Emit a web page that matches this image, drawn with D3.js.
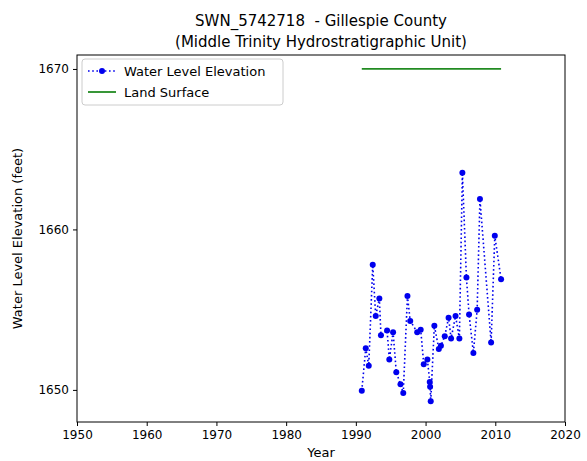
<!DOCTYPE html>
<html>
<head>
<meta charset="utf-8">
<script src="https://cdn.jsdelivr.net/npm/d3@7"></script>
<style>
  body { margin: 0; background: #fff; }
  svg text { font-family: "DejaVu Sans", sans-serif; fill: #000; white-space: pre; }
</style>
</head>
<body>
<div id="chart"></div>
<script>
// water level readings (decimal year, feet)
const years = [1990.85, 1991.42, 1991.85, 1992.42, 1992.85, 1993.37, 1993.6, 1994.48, 1994.8, 1995.34,
  1995.8, 1996.4, 1996.8, 1997.4, 1997.8, 1998.8, 1999.3, 1999.74, 2000.26, 2000.6,
  2000.65, 2000.74, 2001.26, 2001.9, 2002.2, 2002.75, 2003.3, 2003.66, 2004.3, 2004.85,
  2005.28, 2005.86, 2006.24, 2006.86, 2007.4, 2007.8, 2009.4, 2009.93, 2010.83];
const levels = [1649.94, 1652.6, 1651.5, 1657.8, 1654.6, 1655.7, 1653.4, 1653.7, 1651.9, 1653.6,
  1651.1, 1650.35, 1649.8, 1655.85, 1654.3, 1653.6, 1653.75, 1651.6, 1651.9, 1650.5,
  1650.2, 1649.3, 1654.0, 1652.55, 1652.75, 1653.35, 1654.5, 1653.2, 1654.6, 1653.2,
  1663.54, 1657.0, 1654.7, 1652.3, 1655.0, 1661.9, 1652.95, 1659.6, 1656.9];
const landSurface = 1670;
const xTicks = [1950, 1960, 1970, 1980, 1990, 2000, 2010, 2020];
const yTicks = [1650, 1660, 1670];

const data = years.map((d, i) => ({year: d, level: levels[i]}));

const margin = {top: 55, right: 22, bottom: 39, left: 77},
    width = 587 - margin.left - margin.right,
    height = 461 - margin.top - margin.bottom;

const svg = d3.select('#chart').append('svg')
    .attr('width', 587)
    .attr('height', 461);

const g = svg.append('g')
    .attr('transform', `translate(${margin.left},${margin.top})`);

const x = d3.scaleLinear().domain([1950, 2020]).range([0, width]);
const y = d3.scaleLinear().domain([1648.0, 1670.87]).range([height, 0]);

// axes
const xAxis = g.append('g')
    .attr('transform', `translate(0,${height})`)
    .call(d3.axisBottom(x).tickValues(xTicks).tickFormat(d3.format('d')).tickSize(4).tickPadding(4));
const yAxis = g.append('g')
    .call(d3.axisLeft(y).tickValues(yTicks).tickFormat(d3.format('d')).tickSize(4).tickPadding(4));
[xAxis, yAxis].forEach(a => {
  a.select('.domain').remove();
  a.selectAll('text').style('font-size', '12px');
  a.selectAll('line').attr('stroke', '#000');
});

// land surface
g.append('line')
    .attr('x1', x(d3.min(years))).attr('x2', x(d3.max(years)))
    .attr('y1', y(landSurface)).attr('y2', y(landSurface))
    .attr('stroke', '#228b22').attr('stroke-width', 1.8);

// water level
const line = d3.line().x(d => x(d.year)).y(d => y(d.level));
g.append('path')
    .datum(data)
    .attr('d', line)
    .attr('fill', 'none')
    .attr('stroke', '#0000ee')
    .attr('stroke-width', 1.6)
    .attr('stroke-dasharray', '1.6,2.6');
g.selectAll('circle.pt')
    .data(data)
    .enter()
    .append('circle')
      .attr('class', 'pt')
      .attr('cx', d => x(d.year))
      .attr('cy', d => y(d.level))
      .attr('r', 3)
      .attr('fill', '#0000ee');

// frame
g.append('rect')
    .attr('width', width).attr('height', height)
    .attr('fill', 'none').attr('stroke', '#000').attr('stroke-width', 1);

// legend
const legend = g.append('g').attr('transform', 'translate(5,4)');
legend.append('rect')
    .attr('width', 201).attr('height', 46).attr('rx', 3)
    .attr('fill', '#fff').attr('stroke', '#ccc');
legend.append('line')
    .attr('x1', 6).attr('x2', 34).attr('y1', 12).attr('y2', 12)
    .attr('stroke', '#0000ee').attr('stroke-width', 1.6).attr('stroke-dasharray', '1.6,2.6');
legend.append('circle').attr('cx', 20).attr('cy', 12).attr('r', 3).attr('fill', '#0000ee');
legend.append('text').attr('x', 42).attr('y', 16.5).style('font-size', '13px').text('Water Level Elevation');
legend.append('line')
    .attr('x1', 6).attr('x2', 34).attr('y1', 33).attr('y2', 33)
    .attr('stroke', '#228b22').attr('stroke-width', 1.8);
legend.append('text').attr('x', 42).attr('y', 37.5).style('font-size', '13px').text('Land Surface');

// titles
svg.append('text')
    .attr('x', margin.left + width / 2).attr('y', 26)
    .attr('text-anchor', 'middle').style('font-size', '15px')
    .text('SWN_5742718  - Gillespie County');
svg.append('text')
    .attr('x', margin.left + width / 2).attr('y', 47)
    .attr('text-anchor', 'middle').style('font-size', '15px')
    .text('(Middle Trinity Hydrostratigraphic Unit)');

svg.append('text')
    .attr('x', margin.left + width / 2).attr('y', 457)
    .attr('text-anchor', 'middle').style('font-size', '13px')
    .text('Year');
svg.append('text')
    .attr('transform', `translate(22,${margin.top + height / 2}) rotate(-90)`)
    .attr('text-anchor', 'middle').style('font-size', '13px')
    .text('Water Level Elevation (feet)');
</script>
</body>
</html>
